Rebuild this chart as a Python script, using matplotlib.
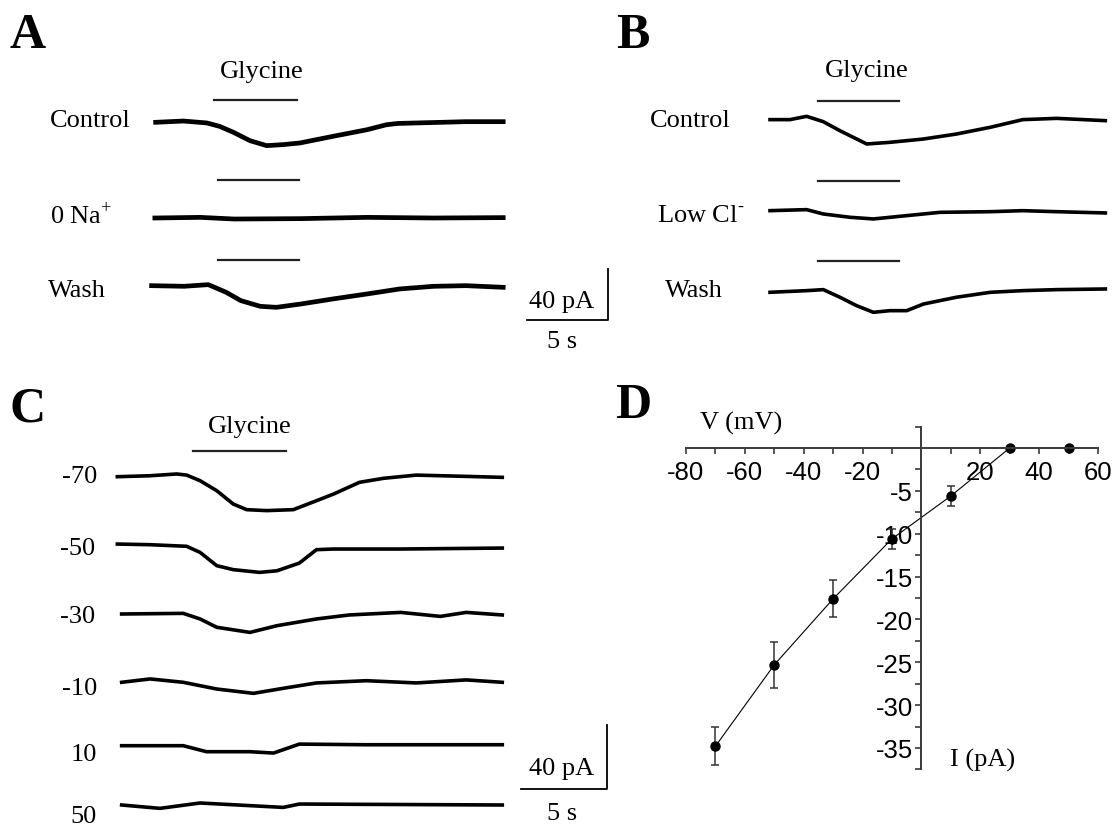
"""Glycine-evoked currents: traces (A-C) and I-V relation (D)."""

import matplotlib

matplotlib.use("Agg")
import matplotlib.pyplot as plt
from matplotlib.ticker import FixedLocator

plt.rcParams["font.family"] = ["Liberation Serif", "DejaVu Serif"]
plt.rcParams["mathtext.fontset"] = "custom"
plt.rcParams["mathtext.rm"] = "Liberation Serif"
plt.rcParams["axes.unicode_minus"] = False

# ---- data (time in s, current in pA relative to each trace's baseline) ----
# Panel A
A_CONTROL_T = [0.35, 2.06, 3.5, 4.3, 5.14, 6.17, 7.2, 8.23, 9.26, 11.3, 13.4, 14.6, 15.3, 16.5, 19.5, 21.8]
A_CONTROL_I = [0, 1.0, -0.5, -3.2, -7.8, -14.4, -18.3, -17.5, -16.2, -11.0, -5.8, -1.9, -0.9, -0.5, 0.5, 0.5]
A_NONA_T = [0.3, 3.1, 5.2, 9.3, 13.4, 17.5, 21.8]
A_NONA_I = [0, 0.5, -0.8, -0.5, 0.5, 0, 0.3]
A_WASH_T = [0.1, 2.1, 3.6, 4.7, 5.6, 6.8, 7.8, 9.3, 11.3, 13.4, 15.4, 17.5, 19.5, 21.8]
A_WASH_I = [0.5, 0, 1.3, -4.7, -11.2, -15.7, -16.5, -13.9, -9.9, -6.0, -2.1, 0, 0.5, -0.8]
A_GLY_ON = [3.95, 4.2, 4.2]
A_GLY_OFF = [9.05, 9.2, 9.2]
A_LABELS = ["Control", "0 Na$^{+}$", "Wash"]

# Panel B
B_CONTROL_T = [0, 1.23, 2.26, 3.29, 4.32, 5.35, 5.97, 7.4, 9.47, 11.5, 13.6, 15.6, 17.7, 20.7]
B_CONTROL_I = [-0.5, -0.5, 2.1, -2.1, -9.2, -15.7, -19.6, -18.3, -15.7, -11.8, -6.5, -0.5, 0.5, -1.3]
B_LOWCL_T = [0, 2.26, 3.29, 4.94, 6.38, 8.44, 10.5, 13.6, 15.6, 17.7, 20.7]
B_LOWCL_I = [0.5, 1.3, -2.1, -4.7, -6.0, -3.4, -0.8, -0.3, 0.5, -0.3, -1.3]
B_WASH_T = [0, 2.26, 3.29, 4.32, 5.35, 6.38, 7.4, 8.44, 9.47, 11.5, 13.6, 15.6, 17.7, 20.7]
B_WASH_I = [0, 1.3, 2.1, -3.9, -10.5, -15.7, -14.4, -14.4, -9.2, -3.9, 0, 1.3, 2.1, 2.6]
B_GLY_ON = [2.96, 2.96, 2.96]
B_GLY_OFF = [7.96, 7.96, 7.96]
B_LABELS = ["Control", "Low Cl$^{\\text{-}}$", "Wash"]

# Panel C (holding potential in mV)
C_HOLD = ["-70", "-50", "-30", "-10", "10", "50"]
C_M70_T = [0.02, 1.92, 3.47, 4.05, 4.83, 5.8, 6.76, 7.54, 8.7, 10.25, 11.6, 12.6, 14.1, 15.5, 17.4, 20.3, 22.4]
C_M70_I = [0, 0.6, 1.7, 1.0, -2.5, -8.75, -17.1, -20.6, -21.2, -20.6, -15.0, -10.8, -3.5, -1.0, 1.0, 0.2, -0.4]
C_M50_T = [0.02, 1.92, 4.05, 4.83, 5.8, 6.76, 8.3, 9.3, 10.6, 11.6, 12.6, 16.5, 22.4]
C_M50_I = [0.4, 0, -1.0, -4.8, -13.1, -15.6, -17.3, -16.3, -11.5, -3.1, -2.7, -2.7, -2.1]
C_M30_T = [0.27, 3.85, 4.83, 5.8, 7.73, 9.3, 11.6, 13.5, 16.5, 18.8, 20.3, 22.4]
C_M30_I = [0, 0.4, -3.1, -8.3, -11.5, -7.3, -3.1, -0.6, 1.0, -1.5, 1.0, -0.6]
C_M10_T = [0.27, 1.92, 3.85, 5.8, 7.93, 9.67, 11.6, 14.5, 17.4, 20.3, 22.4]
C_M10_I = [0, 2.1, 0, -4.2, -6.9, -3.75, -0.4, 1.0, -0.4, 1.5, 0]
C_P10_T = [0.27, 3.85, 5.2, 7.73, 9.1, 10.6, 14.5, 22.4]
C_P10_I = [0, 0, -3.75, -3.75, -4.6, 1.0, 0.6, 0.6]
C_P50_T = [0.27, 2.5, 4.83, 9.67, 10.6, 22.4]
C_P50_I = [0, -2.1, 1.25, -1.5, 0.6, 0]
C_GLY_ON = 4.42
C_GLY_OFF = 9.83

# Panel D: I-V relation
D_V = [-70, -50, -30, -10, 10, 30, 50]
D_I = [-34.8, -25.3, -17.6, -10.6, -5.6, 0, 0]
D_ERR = [2.2, 2.65, 2.15, 1.2, 1.2, 0, 0]
D_XTICKS = [-80, -60, -40, -20, 20, 40, 60]
D_XMINOR = [-70, -50, -30, -10, 10, 30, 50]
D_YTICKS = [-5, -10, -15, -20, -25, -30, -35]
D_YMINOR = [2.5, -2.5, -7.5, -12.5, -17.5, -22.5, -27.5, -32.5, -37.5]

# ---- layout (pixels) ----
W, H = 1115, 829
SERIF = 19
fig = plt.figure(figsize=(W / 100, H / 100), dpi=100)


def px(x, y):
    return x / W, 1 - y / H


def overlay(x0, y0, sx, sy, hide=True):
    """Full-figure axes: data (0, 0) sits at pixel (x0, y0), sx/sy px per unit."""
    ax = fig.add_axes([0, 0, 1, 1])
    ax.set_xlim(-x0 / sx, (W - x0) / sx)
    ax.set_ylim(-(H - y0) / sy, y0 / sy)
    ax.set_facecolor("none")
    if hide:
        ax.axis("off")
    return ax


def label(x, y, s, ha="left", size=SERIF, **kw):
    fig.text(*px(x, y), s, ha=ha, va="baseline", fontsize=size, **kw)


def trace_panel(x0, rows, sx, sy, traces, gly_on, gly_off, bars, lw):
    """rows: baseline pixel of each trace; bars: pixel row of each glycine bar."""
    axes = []
    for row, (t, i), on, off, bar in zip(rows, traces, gly_on, gly_off, bars):
        ax = overlay(x0, row, sx, sy)
        ax.plot(t, i, color="black", lw=lw, solid_joinstyle="round")
        if on is not None:
            ax.plot([on, off], [(row - bar) / sy] * 2, color="#222222", lw=1.6)
        axes.append(ax)
    return axes


def scale_bar(ax, t0, y0):
    ax.plot([t0, t0 + 5, t0 + 5], [y0, y0, y0 + 40], color="black", lw=1.3)


# Panel A
SX_AB, SY_AB = 16.2, 1.275
a_axes = trace_panel(
    150, [123.3, 219, 287.3], SX_AB, SY_AB,
    [(A_CONTROL_T, A_CONTROL_I), (A_NONA_T, A_NONA_I), (A_WASH_T, A_WASH_I)],
    A_GLY_ON, A_GLY_OFF, [101, 181, 261], 3.4,
)
scale_bar(a_axes[2], 23.27, -26.4)
label(10, 48, "A", size=36, fontweight="bold")
label(262, 78, "Glycine", ha="center")
for y, x, s in zip([127, 224, 297], [50, 50, 48], A_LABELS):
    label(x, y, s)
label(562, 308, "40 pA", ha="center")
label(562, 348, "5 s", ha="center")

# Panel B
trace_panel(
    770, [120, 212.3, 293.3], SX_AB, SY_AB,
    [(B_CONTROL_T, B_CONTROL_I), (B_LOWCL_T, B_LOWCL_I), (B_WASH_T, B_WASH_I)],
    B_GLY_ON, B_GLY_OFF, [102, 182, 262], 2.6,
)
label(616, 48, "B", size=36, fontweight="bold")
label(867, 77, "Glycine", ha="center")
for y, x, s in zip([127, 222, 297], [650, 657, 665], B_LABELS):
    label(x, y, s)

# Panel C
SX_C, SY_C = 17.2, 1.6
c_rows = [477.7, 545.7, 615, 683.3, 746.7, 806]
c_axes = trace_panel(
    117, c_rows, SX_C, SY_C,
    [(C_M70_T, C_M70_I), (C_M50_T, C_M50_I), (C_M30_T, C_M30_I),
     (C_M10_T, C_M10_I), (C_P10_T, C_P10_I), (C_P50_T, C_P50_I)],
    [C_GLY_ON] + [None] * 5, [C_GLY_OFF] + [None] * 5, [452] + [None] * 5, 2.6,
)
scale_bar(c_axes[5], 23.5, 10)
label(10, 422, "C", size=36, fontweight="bold")
label(250, 433, "Glycine", ha="center")
for y, x, s in zip([483, 555, 623, 695, 761, 823], [97, 95, 95, 97, 97, 97], C_HOLD):
    label(x, y, s, ha="right")
label(562, 775, "40 pA", ha="center")
label(562, 820, "5 s", ha="center")

# Panel D
axd = overlay(921.4, 449, 2.943, 8.571, hide=False)
for side in ("top", "right"):
    axd.spines[side].set_visible(False)
for side in ("left", "bottom"):
    axd.spines[side].set_position(("data", 0))
    axd.spines[side].set_color("#3a3a3a")
    axd.spines[side].set_linewidth(1.4)
axd.spines["bottom"].set_bounds(-80, 60)
axd.spines["left"].set_bounds(-37.5, 2.5)
axd.xaxis.set_major_locator(FixedLocator(D_XTICKS))
axd.xaxis.set_minor_locator(FixedLocator(D_XMINOR))
axd.yaxis.set_major_locator(FixedLocator(D_YTICKS))
axd.yaxis.set_minor_locator(FixedLocator(D_YMINOR))
axd.set_xticklabels([str(v) for v in D_XTICKS], fontfamily="Liberation Sans", fontsize=18.5)
axd.set_yticklabels([str(v) for v in D_YTICKS], fontfamily="Liberation Sans", fontsize=18.5)
axd.tick_params(which="both", direction="out", width=1.2, color="#3a3a3a", labelcolor="black")
axd.tick_params(which="major", length=4.5)
axd.tick_params(axis="x", which="major", pad=4)
axd.tick_params(axis="y", which="major", pad=1.5)
axd.tick_params(which="minor", length=4)
axd.errorbar(
    D_V, D_I, yerr=D_ERR, fmt="o-", color="black", ms=6.5, lw=0.8,
    ecolor="#333333", elinewidth=1.1, capsize=3, capthick=1.1, clip_on=False,
)
label(615, 418, "D", size=36, fontweight="bold")
label(700, 430, "V (mV)")
label(950, 767, "I (pA)")

fig.savefig("out.png", dpi=100)
